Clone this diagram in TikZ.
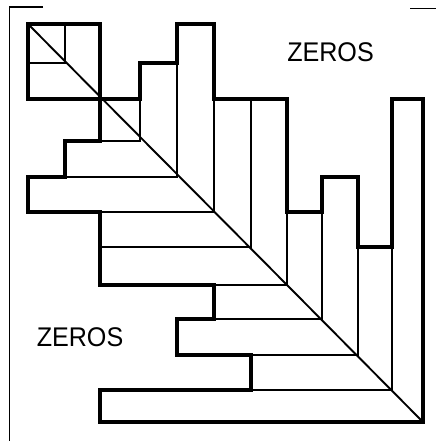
\documentclass[tikz,border=0pt]{standalone}
\usepackage{fontspec}
\setmainfont{Liberation Sans}
\begin{document}
\begin{tikzpicture}[x=1pt,y=-1pt,
  thickline/.style={line width=4.8pt,line join=miter,line cap=rect},
  thinline/.style={line width=1.9pt,line cap=butt},
  frameline/.style={line width=1.8pt},
  label/.style={font=\fontsize{27}{27}\selectfont,inner sep=0pt,xscale=0.93}]
\useasboundingbox (0,0) rectangle (440,445);
% grid coordinates g<i>-<j> (column line i, row line j)
\foreach \i in {0,...,11}{
  \foreach \j in {0,...,11}{
    \pgfmathsetmacro\xx{{28,65,100,140,177,214,251,287,322,358,392,423}[\i]}
    \pgfmathsetmacro\yy{{24,63,99,141,177,212,247,285,319,355,390,422}[\j]}
    \coordinate (g\i-\j) at (\xx,\yy);
  }
}
% frame marks
\coordinate (fa) at (43,7);
\coordinate (fb) at (9.5,7);
\coordinate (fc) at (9.5,441);
\coordinate (fd) at (410,8.5);
\coordinate (fe) at (436,8.5);
\draw[frameline] (fa) -- (fb) -- (fc);
\draw[frameline] (fd) -- (fe);
% diagonal
\draw[thinline] (g0-0) -- (g11-11);
% thin separators
\draw[thinline] (g1-0) -- (g1-1) -- (g0-1);
\draw[thinline] (g3-2) -- (g3-3) -- (g2-3);
\draw[thinline] (g4-1) -- (g4-4) -- (g1-4);
\draw[thinline] (g5-2) -- (g5-5) -- (g2-5);
\draw[thinline] (g6-2) -- (g6-6) -- (g2-6);
\draw[thinline] (g7-5) -- (g7-7) -- (g5-7);
\draw[thinline] (g8-5) -- (g8-8) -- (g5-8);
\draw[thinline] (g9-6) -- (g9-9) -- (g6-9);
\draw[thinline] (g10-6) -- (g10-10) -- (g6-10);
% thick profile outline
\draw[thickline] (g0-0) -- (g2-0) -- (g2-2) -- (g3-2) -- (g3-1) -- (g4-1)
  -- (g4-0) -- (g5-0) -- (g5-2) -- (g7-2) -- (g7-5) -- (g8-5) -- (g8-4)
  -- (g9-4) -- (g9-6) -- (g10-6) -- (g10-2) -- (g11-2) -- (g11-11)
  -- (g2-11) -- (g2-10) -- (g6-10) -- (g6-9) -- (g4-9) -- (g4-8)
  -- (g5-8) -- (g5-7) -- (g2-7) -- (g2-5) -- (g0-5) -- (g0-4) -- (g1-4)
  -- (g1-3) -- (g2-3) -- (g2-2) -- (g0-2) -- cycle;
% labels
\node[label] (z1) at (330.5,52) {ZEROS};
\node[label] (z2) at (80,337.5) {ZEROS};
\end{tikzpicture}
\end{document}
